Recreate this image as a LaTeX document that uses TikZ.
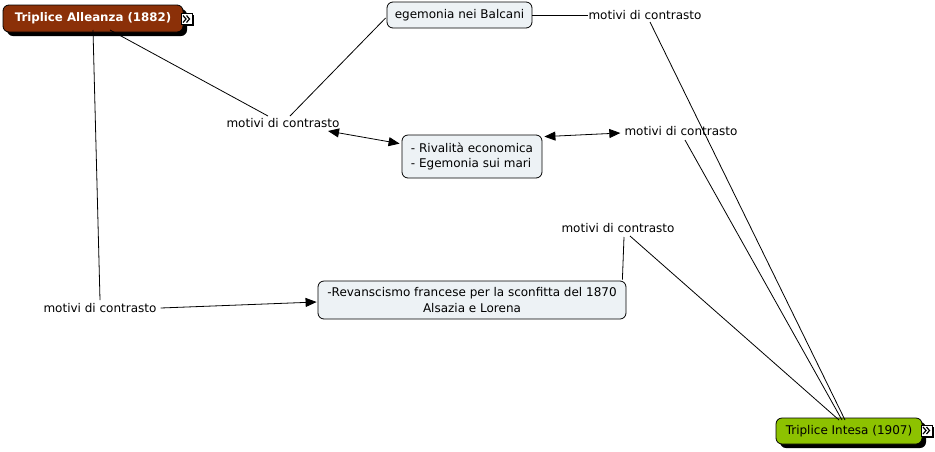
\documentclass[tikz,border=0pt]{standalone}
\usepackage{fontspec}
\setmainfont{DejaVu Sans}
\usetikzlibrary{arrows.meta,calc,shadows}
\definecolor{boxfill}{RGB}{237,242,245}
\definecolor{brownfill}{RGB}{139,48,8}
\definecolor{greenfill}{RGB}{141,194,0}
\tikzset{
  lbl/.style={inner sep=1pt, font=\fontsize{12}{13}\selectfont},
  cbox/.style={draw, rounded corners=6pt, fill=boxfill, line width=0.8pt, inner sep=0pt, font=\fontsize{12}{15.5}\selectfont},
  mainbox/.style={draw, rounded corners=6pt, line width=0.8pt, inner sep=0pt,
    drop shadow={shadow xshift=4pt, shadow yshift=-4pt, fill=black, opacity=1}},
  icon/.style={draw, fill=white, line width=0.7pt, inner sep=0pt, minimum size=11pt,
    drop shadow={shadow xshift=1.5pt, shadow yshift=-1.5pt, fill=black, opacity=1}},
  chev/.style={line width=1.2pt, line join=miter},
  conn/.style={line width=0.8pt},
  arr/.style={conn, -{Triangle[length=11pt,width=9pt]}},
  darr/.style={conn, {Triangle[length=11pt,width=9pt]}-{Triangle[length=11pt,width=9pt]}},
}
\begin{document}
\begin{tikzpicture}[x=1pt,y=-1pt]
\useasboundingbox (0,0) rectangle (935,451);
% main nodes
\node[mainbox, fill=brownfill, text=white, minimum width=180pt, minimum height=27pt,
  font=\bfseries\fontsize{11.8}{13}\selectfont] (A) at (93,18.5) {Triplice Alleanza (1882)};
\node[icon] (Aicon) at (187,19) {};
\draw[chev] ($(Aicon)+(-4,-3.5)$) -- ++(3,3.5) -- ++(-3,3.5);
\draw[chev] ($(Aicon)+(-0.5,-3.5)$) -- ++(3,3.5) -- ++(-3,3.5);
\node[mainbox, fill=greenfill, minimum width=146pt, minimum height=26pt,
  font=\fontsize{12}{13}\selectfont] (I) at (849,431) {Triplice Intesa (1907)};
\node[icon] (Iicon) at (927,430.5) {};
\draw[chev] ($(Iicon)+(-4,-3.5)$) -- ++(3,3.5) -- ++(-3,3.5);
\draw[chev] ($(Iicon)+(-0.5,-3.5)$) -- ++(3,3.5) -- ++(-3,3.5);
% concept boxes
\node[cbox, minimum width=145pt, minimum height=26pt] (E) at (459.5,15) {egemonia nei Balcani};
\node[cbox, minimum width=140pt, minimum height=43pt, align=left] (R) at (472,156.5)
  {- Rivalità economica\\- Egemonia sui mari};
\node[cbox, minimum width=308pt, minimum height=38pt, align=center] (V) at (472,300)
  {-Revanscismo francese per la sconfitta del 1870\\Alsazia e Lorena};
% labels
\node[lbl] (m1) at (283,123) {motivi di contrasto};
\node[lbl] (m2) at (645,15) {motivi di contrasto};
\node[lbl] (m3) at (681,131) {motivi di contrasto};
\node[lbl] (m5) at (618,228) {motivi di contrasto};
\node[lbl] (m4) at (100,308) {motivi di contrasto};
% connectors
\draw[conn] ($(A)+(17,11.5)$) -- ($(m1)+(-15,-7)$);
\draw[conn] ($(m1)+(7,-7)$) -- ($(E.west)+(-1,3)$);
\draw[conn] (E.east) -- ($(m2.west)+(1,0)$);
\draw[conn] ($(m2)+(5,7)$) -- ($(I)+(-4,-11)$);
\draw[darr] ($(m1)+(45,8)$) -- ($(R.north west)+(-2,9)$);
\draw[darr] ($(R.north east)+(2,2)$) -- ($(m3.west)+(-3,2)$);
\draw[conn] ($(m3)+(4,9)$) -- ($(I)+(-7,-11)$);
\draw[conn] ($(A)+(0,11.5)$) -- ($(m4)+(0,-8)$);
\draw[arr] ($(m4.east)+(3,0)$) -- ($(V.west)+(-1,2)$);
\draw[conn] ($(m5)+(6,9)$) -- ($(V.north east)+(-4,-1)$);
\draw[conn] ($(m5)+(12,8)$) -- ($(I)+(-10,-11)$);
\end{tikzpicture}
\end{document}
